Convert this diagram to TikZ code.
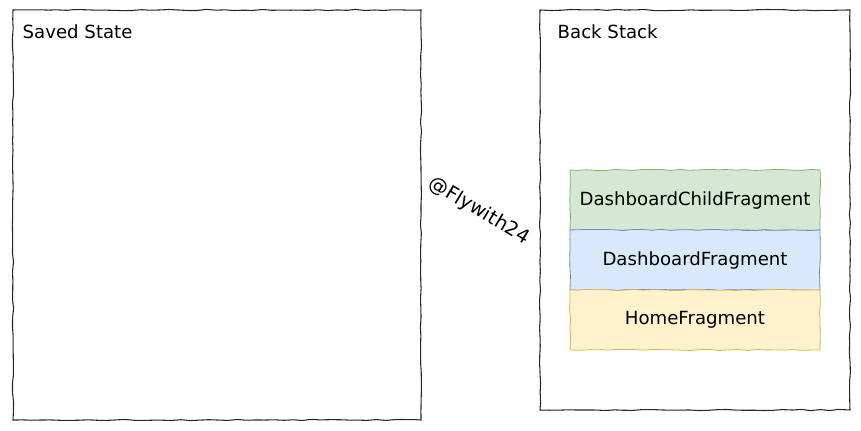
\documentclass[tikz,border=0pt]{standalone}
\usepackage{fontspec}
\setmainfont{DejaVu Sans}
\usetikzlibrary{positioning, decorations.pathmorphing}
\definecolor{greenfill}{HTML}{D5E8D4}
\definecolor{greenline}{HTML}{82B366}
\definecolor{bluefill}{HTML}{DAE8FC}
\definecolor{blueline}{HTML}{6C8EBF}
\definecolor{yellowfill}{HTML}{FFF2CC}
\definecolor{yellowline}{HTML}{D6B656}
\begin{document}
\begin{tikzpicture}[
  x=0.75pt, y=-0.75pt,
  every node/.style={font=\fontsize{13.6pt}{15pt}\selectfont},
  sketchy/.style={decorate, decoration={random steps, segment length=7pt, amplitude=0.45pt}},
  area/.style={draw=black!85, line width=0.8pt, sketchy, minimum width=#1},
  frag/.style={sketchy, line width=0.6pt, minimum width=187.5pt, minimum height=45pt,
               inner sep=0pt, outer sep=0pt},
]
  \useasboundingbox (0,0) rectangle (861,431);
  % The two containers
  \node[area=306pt, minimum height=307.5pt] (saved) at (217,215) {};
  \node[area=232.5pt, minimum height=300pt] (back) at (695,210) {};

  % Titles
  \node[anchor=west] (savedlabel) at (18,32) {Saved State};
  \node[anchor=west] (backlabel) at (553,32) {Back Stack};

  % Fragments on the back stack
  \node[frag, fill=greenfill, draw=greenline] (child) at (695,200) {DashboardChildFragment};
  \node[frag, fill=bluefill, draw=blueline, below=0pt of child] (dash) {DashboardFragment};
  \node[frag, fill=yellowfill, draw=yellowline, below=0pt of dash] (home) {HomeFragment};

  % Watermark
  \node[rotate=-31, font=\fontsize{14.5pt}{16pt}\selectfont] (mark) at (479,211) {@Flywith24};
\end{tikzpicture}
\end{document}
